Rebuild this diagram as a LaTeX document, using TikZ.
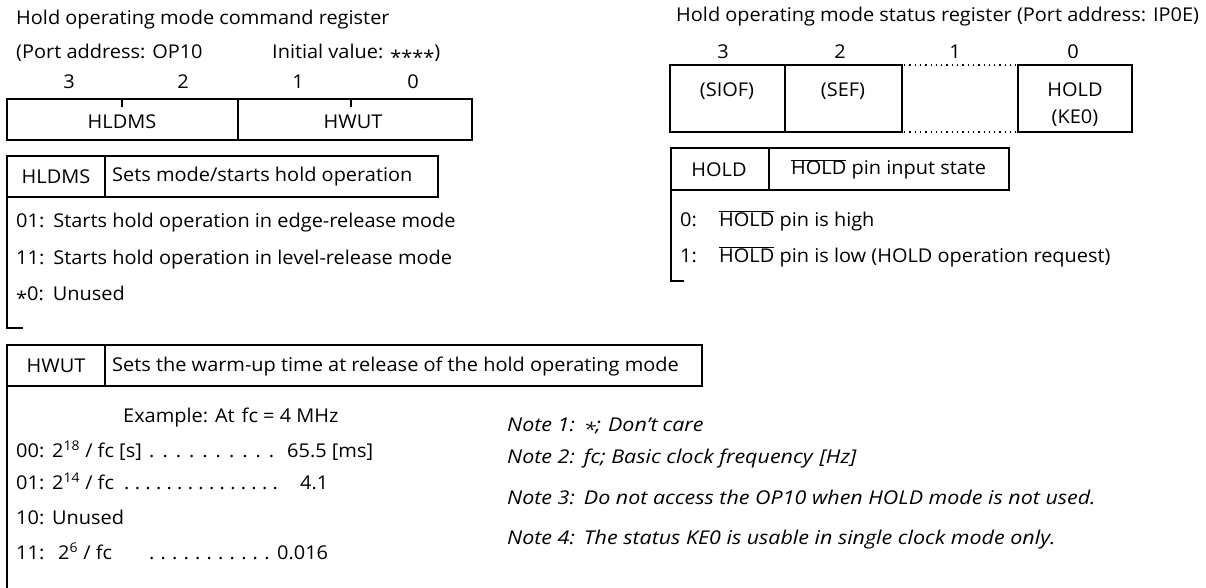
\documentclass[tikz,border=0pt]{standalone}
\usepackage{fontspec}
\setmainfont{Open Sans}[FakeStretch=1.05]
\newfontfamily\notefont{Open Sans}[FakeStretch=1.13]
\newcommand{\ovl}[1]{\ensuremath{\overline{\hbox{#1}}}}
\newcommand{\myast}{\raisebox{-0.28em}{*}}
\newcommand{\dd}[1]{.\hskip #1}
\begin{document}
\begin{tikzpicture}[x=1pt,y=-1pt,
  font=\fontsize{19}{22}\selectfont,
  thickbox/.style={line width=2.8pt},
  thinline/.style={line width=1.1pt},
  hdr/.style={line width=1.5pt},
  dotline/.style={line width=1.3pt, dash pattern=on 1.3pt off 4pt},
  lbl/.style={inner sep=0pt, anchor=base west},
  ctr/.style={inner sep=0pt, anchor=base},
  note/.style={inner sep=0pt, anchor=base west, font=\fontsize{19}{22}\notefont\itshape}]
\useasboundingbox (0,0) rectangle (1206,588);

% ---------- command register ----------
\node[lbl] (ctitle) at (16,25) {Hold operating mode command register};
\node[lbl] (cport) at (16,59) {(Port address: OP10};
\node[lbl] (cinit) at (272,59) {Initial value: \myast\myast\myast\myast)};
\node[ctr] (cb3) at (69,89) {3};
\node[ctr] (cb2) at (183,89) {2};
\node[ctr] (cb1) at (298,89) {1};
\node[ctr] (cb0) at (413,89) {0};
\coordinate (cregTL) at (7,99);
\coordinate (cregBR) at (472,140);
\draw[thickbox] (cregTL) rectangle (cregBR);
\coordinate (cdivT) at (238,99);
\coordinate (cdivB) at (238,140);
\draw[thinline] (cdivT) -- (cdivB);
\coordinate (ctk1a) at (122,99); \coordinate (ctk1b) at (122,107);
\coordinate (ctk2a) at (351,99); \coordinate (ctk2b) at (351,107);
\draw[thinline] (ctk1a) -- (ctk1b);
\draw[thinline] (ctk2a) -- (ctk2b);
\node[ctr] (chldms) at (122,129) {HLDMS};
\node[ctr] (chwut) at (353,129) {HWUT};

% ---------- HLDMS table ----------
\coordinate (hlTL) at (7,156);
\coordinate (hlBR) at (438,197);
\draw[hdr] (hlTL) rectangle (hlBR);
\coordinate (hlDT) at (105,156);
\coordinate (hlDB) at (105,197);
\draw[hdr] (hlDT) -- (hlDB);
\node[ctr] (hlname) at (56,183) {HLDMS};
\node[lbl] (hldesc) at (112,182) {Sets mode/starts hold operation};
\coordinate (hlL1) at (7,197);
\coordinate (hlL2) at (7,328);
\coordinate (hlL3) at (23,328);
\draw[hdr] (hlL1) -- (hlL2) -- (hlL3);
\node[lbl] (hlr1) at (16,227) {01:\hskip 9pt Starts hold operation in edge-release mode};
\node[lbl] (hlr2) at (16,264) {11:\hskip 9pt Starts hold operation in level-release mode};
\node[lbl] (hlr3) at (16,300) {\myast0:\hskip 9pt Unused};

% ---------- HWUT table ----------
\coordinate (hwTL) at (7,345);
\coordinate (hwBR) at (702,386);
\draw[hdr] (hwTL) rectangle (hwBR);
\coordinate (hwDT) at (105,345);
\coordinate (hwDB) at (105,386);
\draw[hdr] (hwDT) -- (hwDB);
\node[ctr] (hwname) at (56,372) {HWUT};
\node[lbl] (hwdesc) at (112,371) {Sets the warm-up time at release of the hold operating mode};
\coordinate (hwL1) at (7,386);
\coordinate (hwL2) at (7,588);
\draw[hdr] (hwL1) -- (hwL2);
\node[lbl] (hwex) at (123,422) {Example: At\hskip 7pt fc = 4 MHz};
\node[lbl] (hw00a) at (16,457) {00:};
\node[lbl] (hw00b) at (52,457) {2\textsuperscript{18} / fc [s]};
\node[lbl] (hw00c) at (149,457) {\dd{8pt}\dd{8pt}\dd{8pt}\dd{8pt}\dd{8pt}\dd{8pt}\dd{8pt}\dd{8pt}\dd{8pt}.};
\node[lbl] (hw00d) at (287,457) {65.5 [ms]};
\node[lbl] (hw01a) at (16,489) {01:};
\node[lbl] (hw01b) at (52,489) {2\textsuperscript{14} / fc};
\node[lbl] (hw01c) at (124,489) {\dd{5.3pt}\dd{5.3pt}\dd{5.3pt}\dd{5.3pt}\dd{5.3pt}\dd{5.3pt}\dd{5.3pt}\dd{5.3pt}\dd{5.3pt}\dd{5.3pt}\dd{5.3pt}\dd{5.3pt}\dd{5.3pt}\dd{5.3pt}.};
\node[lbl] (hw01d) at (300,489) {4.1};
\node[lbl] (hw10a) at (16,524) {10:};
\node[lbl] (hw10b) at (52,524) {Unused};
\node[lbl] (hw11a) at (16,559) {11:};
\node[lbl] (hw11b) at (58,559) {2\textsuperscript{6} / fc};
\node[lbl] (hw11c) at (149,559) {\dd{6.2pt}\dd{6.2pt}\dd{6.2pt}\dd{6.2pt}\dd{6.2pt}\dd{6.2pt}\dd{6.2pt}\dd{6.2pt}\dd{6.2pt}\dd{6.2pt}.};
\node[lbl] (hw11d) at (277,559) {0.016};

% ---------- notes ----------
\node[note] (n1) at (507,431) {Note 1:\hskip 9pt \myast;\hskip 7pt Don’t\hskip 5pt care};
\node[note] (n2) at (507,463) {Note 2:\hskip 9pt fc; Basic clock frequency\hskip 7pt [Hz]};
\node[note] (n3) at (507,504) {Note 3:\hskip 9pt Do not access the OP10 when HOLD mode is not used.};
\node[note] (n4) at (507,544) {Note 4:\hskip 9pt The status KE0 is usable in single clock mode only.};

% ---------- status register ----------
\node[lbl] (stitle) at (676,22) {Hold operating mode status register (Port address: IP0E)};
\node[ctr] (sb3) at (723,59) {3};
\node[ctr] (sb2) at (840,59) {2};
\node[ctr] (sb1) at (955,59) {1};
\node[ctr] (sb0) at (1073,59) {0};
\coordinate (sTL) at (670,65);
\coordinate (sBR) at (902,132);
\draw[thickbox] (sTL) rectangle (sBR);
\coordinate (sDT) at (785,65);
\coordinate (sDB) at (785,132);
\draw[thinline] (sDT) -- (sDB);
\coordinate (hTL) at (1018,65);
\coordinate (hBR) at (1132,132);
\draw[thickbox] (hTL) rectangle (hBR);
\coordinate (dT1) at (904,65); \coordinate (dT2) at (1016,65);
\coordinate (dB1) at (904,132); \coordinate (dB2) at (1016,132);
\draw[dotline] (dT1) -- (dT2);
\draw[dotline] (dB1) -- (dB2);
\node[ctr] (siof) at (727,97) {(SIOF)};
\node[ctr] (sef) at (843,97) {(SEF)};
\node[ctr] (shold) at (1075,97) {HOLD};
\node[ctr] (ske0) at (1075,124) {(KE0)};

% ---------- HOLD table ----------
\coordinate (hoTL) at (671,148);
\coordinate (hoBR) at (1009,190);
\draw[hdr] (hoTL) rectangle (hoBR);
\coordinate (hoDT) at (769,148);
\coordinate (hoDB) at (769,190);
\draw[hdr] (hoDT) -- (hoDB);
\node[ctr] (honame) at (719,177) {HOLD};
\node[lbl] (hodesc) at (791,175) {\ovl{HOLD} pin input state};
\coordinate (hoL1) at (671,190);
\coordinate (hoL2) at (671,281);
\coordinate (hoL3) at (684,281);
\draw[hdr] (hoL1) -- (hoL2) -- (hoL3);
\node[lbl] (hor0a) at (680,226) {0:};
\node[lbl] (hor0b) at (719,226) {\ovl{HOLD} pin is high};
\node[lbl] (hor1a) at (680,262) {1:};
\node[lbl] (hor1b) at (719,262) {\ovl{HOLD} pin is low (HOLD operation request)};
\end{tikzpicture}
\end{document}
